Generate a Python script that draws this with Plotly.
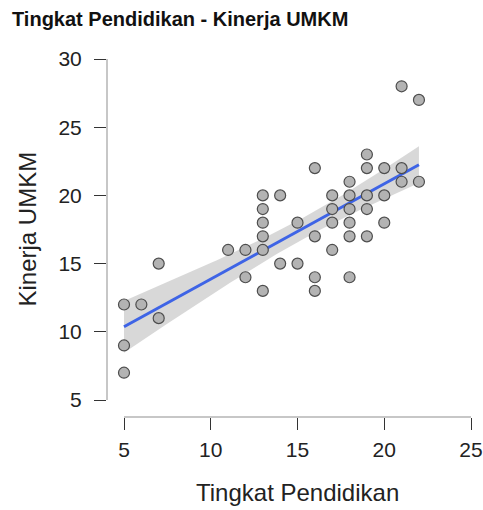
import numpy as np
import plotly.graph_objects as go

# Data
pendidikan = [5, 5, 5, 6, 7, 7, 11, 12, 12,
              13, 13, 13, 13, 13, 13, 14, 14, 15, 15,
              16, 16, 16, 16, 17, 17, 17, 17,
              18, 18, 18, 18, 18, 18, 19, 19, 19, 19, 19,
              20, 20, 20, 21, 21, 21, 22, 22]
kinerja = [12, 9, 7, 12, 15, 11, 16, 16, 14,
           20, 19, 18, 17, 16, 13, 20, 15, 18, 15,
           22, 17, 14, 13, 20, 19, 18, 16,
           21, 20, 19, 18, 17, 14, 23, 22, 20, 19, 17,
           22, 20, 18, 28, 22, 21, 27, 21]

x_ticks = [5, 10, 15, 20, 25]
y_ticks = [5, 10, 15, 20, 25, 30]

title_text = "Tingkat Pendidikan - Kinerja UMKM"
x_title = "Tingkat Pendidikan"
y_title = "Kinerja UMKM"

# Linear regression with 95% confidence band
x = np.array(pendidikan, dtype=float)
y = np.array(kinerja, dtype=float)
n = len(x)
b1, b0 = np.polyfit(x, y, 1)
resid = y - (b0 + b1 * x)
s = np.sqrt(np.sum(resid ** 2) / (n - 2))
sxx = np.sum((x - x.mean()) ** 2)
t_crit = 2.015
xs = np.linspace(x.min(), x.max(), 100)
ys = b0 + b1 * xs
se = s * np.sqrt(1.0 / n + (xs - x.mean()) ** 2 / sxx)
lo, hi = ys - t_crit * se, ys + t_crit * se

W, H = 483, 510
L, R, T, B = 107, 12, 59, 93
px_x = (W - L - R)
px_y = (H - T - B)
# axis ranges chosen so tick extremes sit 17px inside the frame
x_span = max(x_ticks) - min(x_ticks)
x_unit = (px_x - 17) / x_span
y_span = max(y_ticks) - min(y_ticks)
y_unit = (px_y - 17) / y_span
x_range = [min(x_ticks) - 17 / x_unit, max(x_ticks)]
y_range = [min(y_ticks) - 17 / y_unit, max(y_ticks)]

fig = go.Figure()
fig.add_trace(go.Scatter(
    x=np.concatenate([xs, xs[::-1]]), y=np.concatenate([hi, lo[::-1]]),
    fill="toself", fillcolor="rgba(190,190,190,0.6)", line=dict(width=0),
    hoverinfo="skip", showlegend=False))
fig.add_trace(go.Scatter(
    x=xs, y=ys, mode="lines", line=dict(color="#3e64e6", width=3),
    showlegend=False))
fig.add_trace(go.Scatter(
    x=pendidikan, y=kinerja, mode="markers",
    marker=dict(size=11, color="#b3b3b3", line=dict(color="#4d4d4d", width=1.2)),
    showlegend=False))

font = "Liberation Sans, Arial, sans-serif"
fig.update_layout(
    width=W, height=H,
    margin=dict(l=L, r=R, t=T, b=B, autoexpand=False),
    paper_bgcolor="white", plot_bgcolor="white",
    font=dict(family=font, color="#222"),
    title=dict(text="<b>" + title_text + "</b>", x=12 / W, xref="container",
               xanchor="left", y=1 - 19 / H, yanchor="middle",
               font=dict(size=20, color="#111")),
    xaxis=dict(range=x_range, tickvals=x_ticks, ticks="outside", ticklen=12,
               tickwidth=1.3, tickcolor="#333", showgrid=False, zeroline=False,
               showline=False, tickfont=dict(size=21, color="#222"),
               ticklabelstandoff=2, automargin=False),
    yaxis=dict(range=y_range, tickvals=y_ticks, ticks="outside", ticklen=12,
               tickwidth=1.3, tickcolor="#333", showgrid=False, zeroline=False,
               showline=False, tickfont=dict(size=21, color="#222"),
               ticklabelstandoff=8, automargin=False),
    shapes=[
        dict(type="line", xref="paper", yref="y", x0=0, x1=0,
             y0=min(y_ticks), y1=max(y_ticks), line=dict(color="#b5b5b5", width=1.5)),
        dict(type="line", xref="x", yref="paper", x0=min(x_ticks), x1=max(x_ticks),
             y0=0, y1=0, line=dict(color="#b5b5b5", width=1.5)),
    ],
    annotations=[
        dict(text=x_title, xref="x", yref="paper", x=(min(x_ticks) + max(x_ticks)) / 2,
             y=0, yanchor="middle", yshift=-75, showarrow=False,
             font=dict(size=24, color="#222")),
        dict(text=y_title, xref="paper", yref="y", x=0, xanchor="center",
             xshift=-80, y=(min(y_ticks) + max(y_ticks)) / 2, textangle=-90,
             showarrow=False, font=dict(size=24, color="#222")),
    ],
)

fig.write_html("out.html", config={"displayModeBar": False},
               post_script="document.body.style.margin='0';")
